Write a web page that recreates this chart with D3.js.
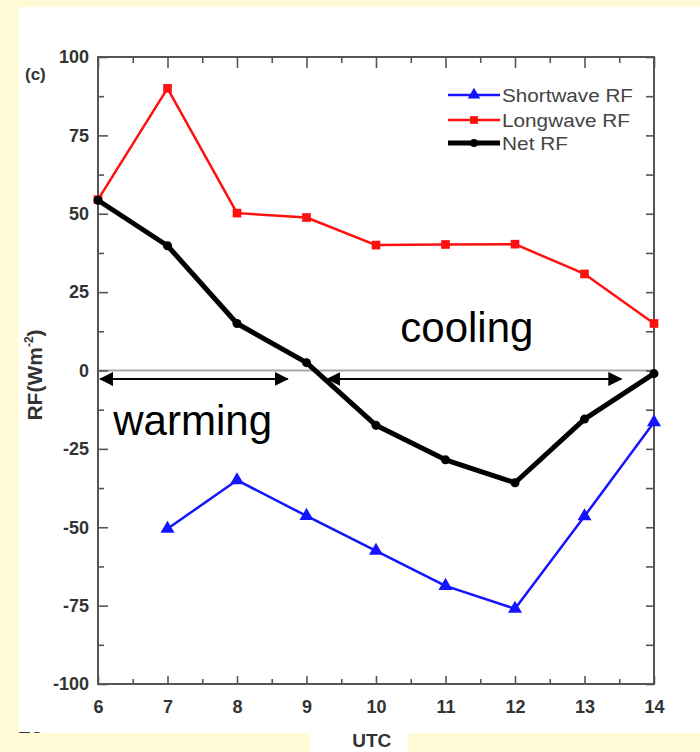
<!DOCTYPE html>
<html>
<head>
<meta charset="utf-8">
<script src="https://cdn.jsdelivr.net/npm/d3@7"></script>
<style>
  html, body { margin: 0; padding: 0; background: #fffbd6; }
  svg { display: block; }
  text { font-family: "Liberation Sans", Arial, Helvetica, sans-serif; }
</style>
</head>
<body>
<svg id="chart" width="700" height="752"></svg>
<script>
// ---- data ----
const hours = [6, 7, 8, 9, 10, 11, 12, 13, 14];
const shortwave = [null, -50.5, -35, -46.4, -57.5, -68.7, -76, -46.5, -16.5];
const longwave = [54.5, 90, 50.2, 48.8, 40, 40.2, 40.3, 30.8, 15];
const netRF = [54.3, 39.8, 15, 2.5, -17.5, -28.5, -35.8, -15.5, -1];
const seriesNames = ["Shortwave RF", "Longwave RF", "Net RF"];
const xTicks = [6, 7, 8, 9, 10, 11, 12, 13, 14];
const xMinor = [6.5, 7.5, 8.5, 9.5, 10.5, 11.5, 12.5, 13.5];
const yTicks = [-100, -75, -50, -25, 0, 25, 50, 75, 100];
const yMinor = [-87.5, -62.5, -37.5, -12.5, 12.5, 37.5, 62.5, 87.5];
const warmingArrow = [6.03, 8.73];
const coolingArrow = [9.3, 13.53];
const arrowLevel = -2.7;

// ---- layout ----
const svg = d3.select("#chart");
const W = 700, H = 752;
const plot = { left: 98, right: 654, top: 57, bottom: 684 };
const x = d3.scaleLinear().domain([6, 14]).range([plot.left, plot.right]);
const y = d3.scaleLinear().domain([-100, 100]).range([plot.bottom, plot.top]);
const fmt = d => String(d);

// background panels
svg.append("rect").attr("width", W).attr("height", H).attr("fill", "#fffbd6");
svg.append("rect").attr("x", 19).attr("y", 7).attr("width", W - 19).attr("height", 726).attr("fill", "#ffffff");
svg.append("text").attr("x", 19).attr("y", 745).attr("font-size", 18).attr("font-weight", "bold").attr("fill", "#333").text("TC");
svg.append("rect").attr("x", 0).attr("y", 733).attr("width", W).attr("height", 19).attr("fill", "#fffbd6");
svg.append("rect").attr("x", 310).attr("y", 733).attr("width", 98).attr("height", 19).attr("fill", "#ffffff");

// zero line
svg.append("line")
  .attr("x1", x(6)).attr("x2", x(14)).attr("y1", y(0)).attr("y2", y(0))
  .attr("stroke", "#a8a8a8").attr("stroke-width", 2.2);

// axes
const axisColor = "#555";
function styleAxis(g) {
  g.select(".domain").remove();
  g.selectAll(".tick line").attr("stroke", axisColor).attr("stroke-width", 1.6);
  g.selectAll(".tick text").attr("fill", "#333").attr("font-size", 18).attr("font-weight", "bold")
    .attr("font-family", "'Liberation Sans', Arial, sans-serif");
}
svg.append("g").attr("transform", `translate(${plot.left},0)`)
  .call(d3.axisLeft(y).tickValues(yTicks).tickSize(-10).tickPadding(9).tickFormat(fmt))
  .call(styleAxis);
svg.append("g").attr("transform", `translate(${plot.left},0)`)
  .call(d3.axisLeft(y).tickValues(yMinor).tickSize(-6).tickFormat(""))
  .call(styleAxis);
svg.append("g").attr("transform", `translate(${plot.right},0)`)
  .call(d3.axisRight(y).tickValues(yTicks).tickSize(-8).tickFormat(""))
  .call(styleAxis);
svg.append("g").attr("transform", `translate(${plot.right},0)`)
  .call(d3.axisRight(y).tickValues(yMinor).tickSize(-8).tickFormat(""))
  .call(styleAxis);
svg.append("g").attr("transform", `translate(0,${plot.bottom})`)
  .call(d3.axisBottom(x).tickValues(xTicks).tickSize(-8).tickPadding(16).tickFormat(fmt))
  .call(styleAxis);
svg.append("g").attr("transform", `translate(0,${plot.bottom})`)
  .call(d3.axisBottom(x).tickValues(xMinor).tickSize(-5).tickFormat(""))
  .call(styleAxis);
svg.append("g").attr("transform", `translate(0,${plot.top})`)
  .call(d3.axisTop(x).tickValues(xTicks).tickSize(-11).tickFormat(""))
  .call(styleAxis);
svg.append("g").attr("transform", `translate(0,${plot.top})`)
  .call(d3.axisTop(x).tickValues(xMinor).tickSize(-6).tickFormat(""))
  .call(styleAxis);

// frame
svg.append("rect")
  .attr("x", plot.left).attr("y", plot.top)
  .attr("width", plot.right - plot.left).attr("height", plot.bottom - plot.top)
  .attr("fill", "none").attr("stroke", axisColor).attr("stroke-width", 2);

// axis titles
svg.append("text").attr("x", 25).attr("y", 80).attr("font-size", 17).attr("font-weight", "bold")
  .attr("fill", "#333").text("(c)");
const yl = svg.append("text")
  .attr("transform", `translate(42,375) rotate(-90)`)
  .attr("text-anchor", "middle").attr("font-size", 21).attr("font-weight", "bold").attr("fill", "#333");
yl.append("tspan").text("RF(Wm");
yl.append("tspan").attr("font-size", 12).attr("dy", -9).text("-2");
yl.append("tspan").attr("dy", 9).text(")");
svg.append("text").attr("x", x(9.94)).attr("y", 747).attr("text-anchor", "middle")
  .attr("font-size", 19).attr("font-weight", "bold").attr("fill", "#333").text("UTC");

// series
const series = [
  { name: seriesNames[0], values: shortwave, color: "#1414ff", width: 2.5, marker: "triangle", size: 85 },
  { name: seriesNames[1], values: longwave, color: "#ff1010", width: 2.5, marker: "square", size: 75 },
  { name: seriesNames[2], values: netRF, color: "#000000", width: 5, marker: "circle", size: 64 }
];
const symbolType = { triangle: d3.symbolTriangle, square: d3.symbolSquare, circle: d3.symbolCircle };
const lineGen = d3.line().defined(d => d.v !== null).x(d => x(d.h)).y(d => y(d.v));

// draw order: red, blue, black on top
[series[1], series[0], series[2]].forEach(s => {
  const pts = hours.map((h, i) => ({ h, v: s.values[i] }));
  svg.append("path").datum(pts).attr("d", lineGen)
    .attr("fill", "none").attr("stroke", s.color).attr("stroke-width", s.width)
    .attr("stroke-linejoin", "round");
  svg.append("g").selectAll("path").data(pts.filter(d => d.v !== null)).join("path")
    .attr("transform", d => `translate(${x(d.h)},${y(d.v)})`)
    .attr("d", d3.symbol().type(symbolType[s.marker]).size(s.size))
    .attr("fill", s.color);
});

// legend
const legendX = 448, legendY = [95, 120, 143], legendLen = [131, 128, 66];
series.forEach((s, i) => {
  const g = svg.append("g");
  g.append("line").attr("x1", legendX).attr("x2", legendX + 52).attr("y1", legendY[i]).attr("y2", legendY[i])
    .attr("stroke", s.color).attr("stroke-width", s.width);
  g.append("path").attr("transform", `translate(${legendX + 26},${legendY[i]})`)
    .attr("d", d3.symbol().type(symbolType[s.marker]).size(s.size * 0.8)).attr("fill", s.color);
  g.append("text").attr("x", legendX + 54).attr("y", legendY[i] + 6.5)
    .attr("font-size", 18).attr("fill", "#444")
    .attr("textLength", legendLen[i]).attr("lengthAdjust", "spacingAndGlyphs")
    .text(s.name);
});

// annotations: arrows
const defs = svg.append("defs");
defs.append("marker").attr("id", "head").attr("viewBox", "0 0 14 14")
  .attr("refX", 13).attr("refY", 7).attr("markerWidth", 14).attr("markerHeight", 14)
  .attr("markerUnits", "userSpaceOnUse").attr("orient", "auto-start-reverse")
  .append("path").attr("d", "M0,0 L14,7 L0,14 Z").attr("fill", "#000");
[warmingArrow, coolingArrow].forEach(a => {
  svg.append("line")
    .attr("x1", x(a[0])).attr("x2", x(a[1])).attr("y1", y(arrowLevel)).attr("y2", y(arrowLevel))
    .attr("stroke", "#000").attr("stroke-width", 2)
    .attr("marker-start", "url(#head)").attr("marker-end", "url(#head)");
});
svg.append("text").attr("x", x(6.22)).attr("y", y(-20.6)).attr("font-size", 42).attr("fill", "#000").text("warming");
svg.append("text").attr("x", x(10.35)).attr("y", y(9.1)).attr("font-size", 42).attr("fill", "#000").text("cooling");
</script>
</body>
</html>
